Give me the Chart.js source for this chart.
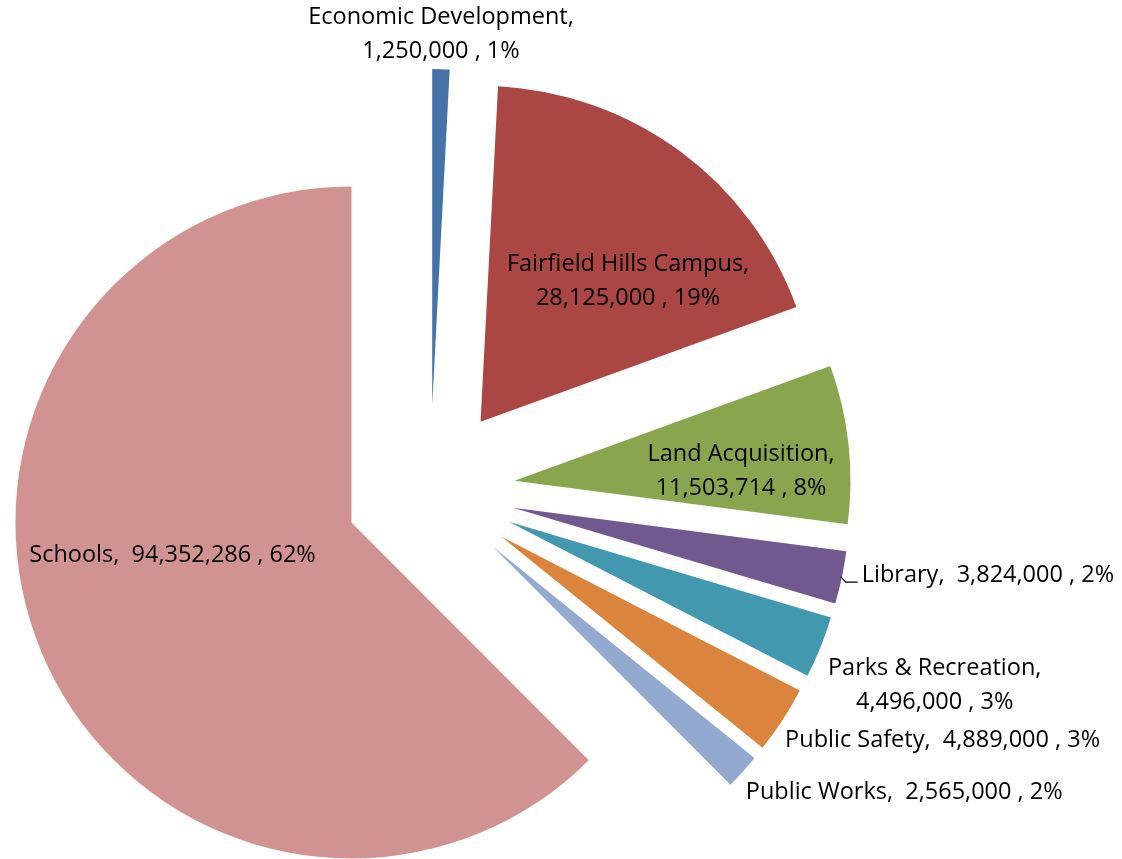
<!DOCTYPE html>
<html>
<head>
<meta charset="utf-8">
<script src="https://cdn.jsdelivr.net/npm/chart.js@4/dist/chart.umd.min.js"></script>
<style>
  html, body { margin: 0; padding: 0; background: #ffffff; }
  #wrap { width: 1122px; height: 859px; position: relative; }
</style>
</head>
<body>
<div id="wrap"><canvas id="c" width="1122" height="859"></canvas></div>
<script>
// ---- data ----
const categories = ['Economic Development', 'Fairfield Hills Campus', 'Land Acquisition', 'Library',
                    'Parks & Recreation', 'Public Safety', 'Public Works', 'Schools'];
const amounts = [1250000, 28125000, 11503714, 3824000, 4496000, 4889000, 2565000, 94352286];
const percentLabels = ['1%', '19%', '8%', '2%', '3%', '3%', '2%', '62%'];

// ---- styles ----
const sliceColors = ['#4572A7', '#AA4643', '#89A54E', '#71588F', '#4198AF', '#DB843D', '#93A9CF', '#D19392'];
const EXPLODE = 85;
const FONT_SIZE = 23.5;
const FONT = FONT_SIZE + 'px "Open Sans", "Noto Sans", sans-serif';
const LINE_H = 34;
const CAP_HALF = 15.8 / 2;

// label placement per slice (mode, wrapping, distances)
const labelPlacement = [
  { mode: 'outside', wrap: true,  gap: 2 },
  { mode: 'inside',  wrap: true,  turn: 9.6,  frac: 0.609 },
  { mode: 'inside',  wrap: true,  turn: 3.55, frac: 0.675 },
  { mode: 'leader',  wrap: false, gap: 20 },
  { mode: 'outside', wrap: true,  gap: 8 },
  { mode: 'outside', wrap: false, gap: 3 },
  { mode: 'outside', wrap: false, gap: 4 },
  { mode: 'inside',  wrap: false, turn: 12.3, frac: 0.541 }
];

const fmt = v => v.toLocaleString('en-US');

function labelLines(i) {
  const p = labelPlacement[i];
  const val = fmt(amounts[i]) + ' , ' + percentLabels[i];
  return p.wrap ? [categories[i] + ',', val] : [categories[i] + ',  ' + val];
}

const explodePlugin = {
  id: 'explode',
  afterDatasetsUpdate(chart) {
    const meta = chart.getDatasetMeta(0);
    meta.data.forEach(arc => {
      const mid = (arc.startAngle + arc.endAngle) / 2;
      arc.x += Math.cos(mid) * EXPLODE;
      arc.y += Math.sin(mid) * EXPLODE;
    });
  }
};

const labelPlugin = {
  id: 'sliceLabels',
  afterDatasetsDraw(chart) {
    const ctx = chart.ctx;
    const meta = chart.getDatasetMeta(0);
    ctx.save();
    ctx.font = FONT;
    ctx.fillStyle = '#000000';
    ctx.strokeStyle = '#000000';
    ctx.textBaseline = 'alphabetic';
    meta.data.forEach((arc, i) => {
      const p = labelPlacement[i];
      const lines = labelLines(i);
      const mid = (arc.startAngle + arc.endAngle) / 2;
      const R = arc.outerRadius;
      const dx = Math.cos(mid), dy = Math.sin(mid);
      const widths = lines.map(l => ctx.measureText(l).width);
      const bw = Math.max(...widths);
      const bh = lines.length * LINE_H;
      let cx, cy;
      if (p.mode === 'inside') {
        const a = mid + p.turn * Math.PI / 180;
        cx = arc.x + Math.cos(a) * R * p.frac;
        cy = arc.y + Math.sin(a) * R * p.frac;
      } else if (p.mode === 'outside') {
        const px = arc.x + dx * (R + p.gap);
        const py = arc.y + dy * (R + p.gap);
        cx = dx > 0.3 ? px + bw / 2 : (dx < -0.3 ? px - bw / 2 : px);
        cy = dy > 0.3 ? py + bh / 2 : (dy < -0.3 ? py - bh / 2 : py);
      } else {
        const ax = arc.x + dx * R, ay = arc.y + dy * R;
        const left = ax + p.gap;
        cx = left + bw / 2;
        cy = ay - 3.6;
        const ly = ay + 4.5;
        ctx.lineWidth = 1.3;
        ctx.beginPath();
        ctx.moveTo(ax - 1, ay - 1);
        ctx.lineTo(ax + 4, ly);
        ctx.lineTo(left - 4, ly);
        ctx.stroke();
      }
      ctx.textAlign = 'center';
      lines.forEach((l, k) => {
        const capMid = cy - bh / 2 + LINE_H * (k + 0.5);
        ctx.fillText(l, cx, capMid + CAP_HALF);
      });
    });
    ctx.restore();
  }
};

new Chart(document.getElementById('c'), {
  type: 'pie',
  data: {
    labels: categories,
    datasets: [{
      data: amounts,
      backgroundColor: sliceColors,
      borderWidth: 0
    }]
  },
  options: {
    responsive: false,
    animation: false,
    events: [],
    radius: 336,
    layout: { padding: { top: 121, right: 262, bottom: 0, left: 0 } },
    plugins: {
      legend: { display: false },
      tooltip: { enabled: false },
      title: { display: false }
    }
  },
  plugins: [explodePlugin, labelPlugin]
});
</script>
</body>
</html>
